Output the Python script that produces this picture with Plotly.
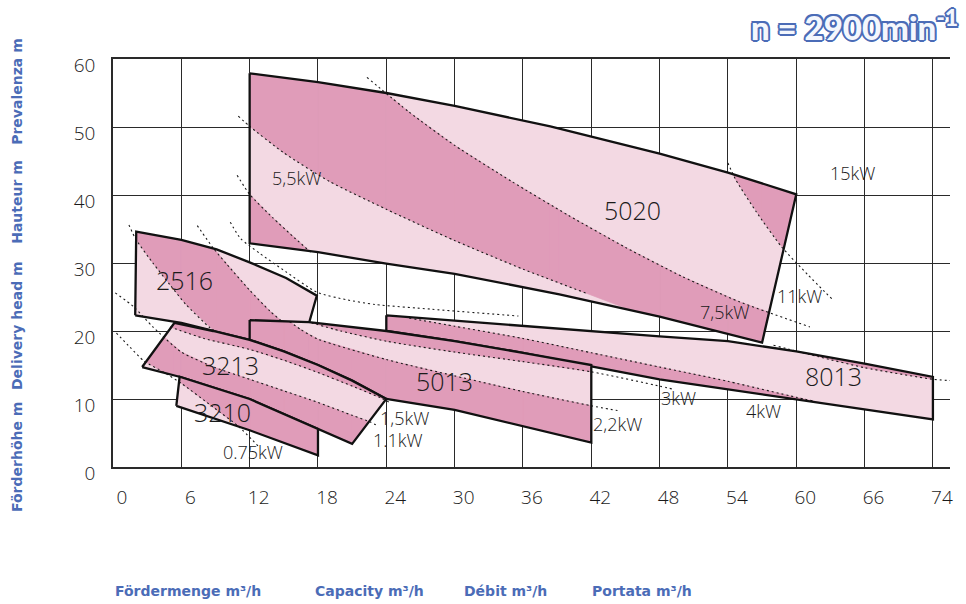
import numpy as np
import plotly.graph_objects as go

DARK = "#e09cb9"
LIGHT = "#f3d9e3"
INK = "#1a1a1a"
BLUE = "#4b6cb7"

# ---------------- axes ----------------
x_tick_vals = [0, 6, 12, 18, 24, 30, 36, 42, 48, 54, 60, 66, 72]
x_tick_text = ["0", "6", "12", "18", "24", "30", "36", "42", "48", "54", "60", "66", "74"]
y_tick_vals = [0, 10, 20, 30, 40, 50, 60]

# ---------------- pump envelopes (Q m3/h, H m): top chain / bottom chain ----------------
p5020_top = [(12, 57.9), (18, 56.6), (24, 55.0), (30, 53.1), (38.4, 50.1), (48, 46.1), (54, 43.3), (60, 40.1)]
p5020_bot = [(12, 32.9), (18, 31.6), (24, 29.9), (30, 28.4), (39.2, 25.4), (48, 22.1), (57, 18.3), (60, 40.1)]

p2516_top = [(1.95, 22.3), (2.04, 34.6), (6, 33.4), (9.1, 32.0), (12, 30.1), (15.2, 27.8), (17.9, 25.2)]
p2516_bot = [(1.95, 22.3), (6, 21.2), (8.8, 20.0), (12, 18.7), (16.4, 16.4), (17.24, 21.3), (17.9, 25.2)]

p8013_top = [(24, 22.3), (30, 21.5), (36, 20.7), (42, 19.9), (48, 19.2), (54, 18.5), (60, 17.0), (66, 15.2), (72, 13.25)]
p8013_bot = [(24, 20.0), (30, 18.5), (36, 16.8), (42, 14.8), (48, 12.9), (54, 11.4), (60, 10.0), (66, 8.5), (72, 7.0)]

p5013_top = [(12, 21.6), (17.2, 21.3), (24, 20.0), (30, 18.5), (36, 16.8), (42, 15.0)]
p5013_bot = [(12, 18.7), (15, 17.0), (18, 15.0), (21, 12.7), (24, 10.0), (30, 8.4), (36, 6.0), (42, 3.6)]

p3213_top = [(2.56, 14.7), (5.4, 21.2), (8.8, 20.0), (12, 18.7), (15, 17.0), (18, 15.0), (21, 12.7), (24, 10.0)]
p3213_bot = [(2.56, 14.7), (6, 13.2), (12, 10.0), (18, 5.6), (21, 3.4), (24, 10.0)]

p3210_top = [(5.56, 9.0), (5.85, 13.27), (12, 10.0), (18, 5.6)]
p3210_bot = [(5.56, 9.0), (12, 5.4), (18, 1.7)]

# ---------------- power curves (dotted) ----------------
kw5020_a = [(22.3, 57.3), (26, 52.2), (30, 47.3), (35, 42.0), (40, 37.0), (45, 32.3), (50, 28.0), (55, 24.3), (61.2, 20.6)]
kw5020_b = [(11, 51.6), (12, 50.1), (15, 46.2), (19, 42.0), (24, 37.9), (30, 33.3), (36, 29.1), (41.5, 25.6)]
kw5020_c = [(10.9, 42.9), (12, 40.1), (14, 36.7), (16, 33.6), (17.5, 31.4)]
kw5020_d = [(54, 44.7), (54.7, 42.2), (56.5, 37.5), (58.7, 32.4), (61, 28.3), (63.2, 24.6)]

kw2516_a = [(1.4, 35.6), (2.0, 33.5), (3.5, 30.0), (5.0, 26.8), (6.4, 23.9), (8.5, 20.5), (9.4, 19.5)]
kw2516_b = [(7.4, 35.5), (8.8, 32.2), (10, 29.8), (12, 26.0), (13.8, 22.9), (15.5, 20.5), (17, 18.5)]
kw2516_c = [(10.3, 36.0), (11.2, 33.6), (12.9, 31.4), (15.2, 28.7), (17.9, 25.7), (20.5, 24.6), (23, 23.9), (28, 23.2), (35.6, 22.2)]

kw3213_15 = [(5.0, 20.6), (8, 18.9), (12, 17.3), (15, 15.7), (18, 13.9), (21, 11.9), (23.6, 10.1), (24.4, 9.4)]
kw3213_11 = [(0.2, 25.6), (1.8, 23.6), (3.5, 20.6), (6, 16.9), (9, 14.6), (12, 12.9), (15, 11.2), (18, 9.5), (21, 7.6), (22.6, 6.6), (23.3, 6.0)]
kw3210_075 = [(0.3, 19.7), (1.5, 17.6), (2.7, 15.6), (4.5, 13.9), (6, 12.3), (8.8, 8.8), (11, 6.0), (12.8, 3.0)]

kw5013_22 = [(15.5, 21.4), (16.5, 20.2), (18, 18.8), (24, 15.8), (30, 13.4), (36, 11.1), (42, 9.0), (44.3, 8.3)]
kw5013_30 = [(17, 21.4), (20, 20.0), (24, 18.5), (30, 16.9), (36, 15.5), (42, 14.0), (48, 11.9), (49.3, 11.4)]

kw8013_40 = [(26, 21.9), (30, 20.7), (36, 18.9), (42, 16.8), (48, 14.7), (54, 12.6), (60, 10.25), (61.5, 9.7)]
kw8013_55 = [(58, 17.9), (62, 16.2), (66, 14.6), (72, 12.9), (73.6, 12.7)]

# ---------------- labels ----------------
pump_names = ["5020", "2516", "3213", "3210", "5013", "8013"]
pump_label_q = [45.6, 6.3, 10.3, 9.6, 29.1, 63.3]
pump_label_h = [37.8, 27.5, 15.0, 8.1, 12.6, 13.4]

kw_names = ["5,5kW", "7,5kW", "11kW", "15kW", "0.75kW", "1.1kW", "1,5kW", "2,2kW", "3kW", "4kW"]
kw_label_q = [16.1, 53.7, 60.3, 64.9, 12.3, 25.0, 25.6, 44.3, 49.7, 57.1]
kw_label_h = [42.5, 22.8, 25.1, 43.2, 2.2, 4.0, 7.2, 6.3, 10.1, 8.2]


# ---------------- geometry helpers ----------------
def extend(curve, length=40.0):
    p = np.array(curve, dtype=float)
    d0 = p[0] - p[1]
    d0 /= np.linalg.norm(d0)
    d1 = p[-1] - p[-2]
    d1 /= np.linalg.norm(d1)
    return [tuple(p[0] + d0 * length)] + [tuple(q) for q in p] + [tuple(p[-1] + d1 * length)]


def band_between(upper, lower):
    u = extend(upper)
    w = extend(lower)
    return u + w[::-1]


def band_side(curve, offset):
    c = extend(curve)
    o = [(x + offset[0], y + offset[1]) for x, y in c]
    return c + o[::-1]


def strips(top, bot):
    tx, ty = zip(*top)
    bx, by = zip(*bot)
    xs = sorted(set(tx) | set(bx))
    out = []
    for xa, xb in zip(xs[:-1], xs[1:]):
        ta, tb = np.interp(xa, tx, ty), np.interp(xb, tx, ty)
        ba, bb = np.interp(xa, bx, by), np.interp(xb, bx, by)
        out.append([(xa, ba), (xb, bb), (xb, tb), (xa, ta)])
    return out


def clip(subject, clipper):
    out = list(subject)
    n = len(clipper)
    for i in range(n):
        a = clipper[i]
        b = clipper[(i + 1) % n]
        if abs(a[0] - b[0]) < 1e-12 and abs(a[1] - b[1]) < 1e-12:
            continue
        inp = out
        out = []
        if not inp:
            break

        def side(p):
            return (b[0] - a[0]) * (p[1] - a[1]) - (b[1] - a[1]) * (p[0] - a[0])

        def inter(p, q):
            sp, sq = side(p), side(q)
            t = sp / (sp - sq)
            return (p[0] + t * (q[0] - p[0]), p[1] + t * (q[1] - p[1]))

        s = inp[-1]
        for e in inp:
            if side(e) >= 0:
                if side(s) < 0:
                    out.append(inter(s, e))
                out.append(e)
            elif side(s) >= 0:
                out.append(inter(s, e))
            s = e
    return out


fig = go.Figure()


def add_pump(top, bot, dark_bands, curves):
    outline = list(top) + list(bot[::-1])
    fig.add_trace(go.Scatter(x=[p[0] for p in outline], y=[p[1] for p in outline], mode="lines",
                             fill="toself", fillcolor=LIGHT, line=dict(width=0, color=LIGHT),
                             hoverinfo="skip", showlegend=False))
    st = strips(top, bot)
    for band in dark_bands:
        xs, ys = [], []
        for s in st:
            piece = clip(band, s)
            if len(piece) >= 3:
                xs += [p[0] for p in piece] + [piece[0][0], None]
                ys += [p[1] for p in piece] + [piece[0][1], None]
        if xs:
            fig.add_trace(go.Scatter(x=xs, y=ys, mode="lines", fill="toself", fillcolor=DARK,
                                     line=dict(width=0.7, color=DARK), hoverinfo="skip",
                                     showlegend=False))
    for c in curves:
        fig.add_trace(go.Scatter(x=[p[0] for p in c], y=[p[1] for p in c], mode="lines",
                                 line=dict(color=INK, width=1.1, dash="2px,3px", shape="spline",
                                           smoothing=0.6),
                                 hoverinfo="skip", showlegend=False))
    fig.add_trace(go.Scatter(x=[p[0] for p in outline] + [outline[0][0]],
                             y=[p[1] for p in outline] + [outline[0][1]], mode="lines",
                             line=dict(color="#111", width=2.3), hoverinfo="skip", showlegend=False))


add_pump(p5020_top, p5020_bot,
         [band_between(kw5020_a, kw5020_b), band_side(kw5020_c, (-60, -60)), band_side(kw5020_d, (60, 0))],
         [kw5020_a, kw5020_b, kw5020_c, kw5020_d])
add_pump(p2516_top, p2516_bot,
         [band_between(kw2516_a, kw2516_b)],
         [kw2516_a, kw2516_b, kw2516_c])
add_pump(p8013_top, p8013_bot,
         [band_side(kw8013_40, (0, -60)), band_side(kw8013_55, (0, 60))],
         [kw8013_40, kw8013_55])
add_pump(p5013_top, p5013_bot,
         [band_side(kw5013_22, (0, -60)), band_side(kw5013_30, (0, 60))],
         [kw5013_22, kw5013_30])
add_pump(p3213_top, p3213_bot,
         [band_side(kw3213_15, (0, 60)), band_between(kw3213_11, kw3210_075)],
         [kw3213_15, kw3213_11])
add_pump(p3210_top, p3210_bot,
         [band_side(kw3210_075, (60, 50))],
         [kw3210_075])

annotations = []
for name, q, h in zip(pump_names, pump_label_q, pump_label_h):
    annotations.append(dict(x=q, y=h, xref="x", yref="y", text=name, showarrow=False,
                            font=dict(family="Open Sans", size=25, color=INK, weight=300)))
for name, q, h in zip(kw_names, kw_label_q, kw_label_h):
    annotations.append(dict(x=q, y=h, xref="x", yref="y", text=name, showarrow=False,
                            font=dict(family="Open Sans", size=18, color=INK, weight=300)))

# axis titles
y_titles = ["Förderhöhe m", "Delivery head m", "Hauteur m", "Prevalenza m"]
y_title_pos = [0.0245, 0.348, 0.65, 0.922]
for t, p in zip(y_titles, y_title_pos):
    annotations.append(dict(x=-0.1147, y=p, xref="paper", yref="paper", text=t, showarrow=False,
                            textangle=-90, xanchor="center", yanchor="middle",
                            font=dict(family="DejaVu Sans", size=14, color=BLUE, weight="bold")))
x_titles = ["Fördermenge m³/h", "Capacity m³/h", "Débit m³/h", "Portata m³/h"]
x_title_pos = [0.0902, 0.306, 0.469, 0.632]
for t, p in zip(x_titles, x_title_pos):
    annotations.append(dict(x=p, y=-0.304, xref="paper", yref="paper", text=t, showarrow=False,
                            xanchor="center", yanchor="middle",
                            font=dict(family="DejaVu Sans", size=14, color=BLUE, weight="bold")))

outline_shadow = ", ".join(f"{dx}px {dy}px 0 {BLUE}" for dx, dy in
                           [(-2, 0), (2, 0), (0, -2), (0, 2), (-1.5, -1.5), (1.5, -1.5), (-1.5, 1.5), (1.5, 1.5)])
annotations.append(dict(x=1.012, y=1.083, xref="paper", yref="paper", text="n = 2900min<sup>-1</sup>",
                        showarrow=False, xanchor="right", yanchor="middle",
                        font=dict(family="Lato", size=33, color="#f4f7fd", weight=900, shadow=outline_shadow)))

fig.update_layout(
    width=966, height=604,
    margin=dict(l=113, r=16, t=59, b=137),
    paper_bgcolor="white", plot_bgcolor="white",
    showlegend=False,
    annotations=annotations,
    xaxis=dict(range=[0, 73.5], tickvals=x_tick_vals, ticktext=x_tick_text, showgrid=True,
               gridcolor="#2a2a2a", gridwidth=1.2, zeroline=False, showline=True, mirror=True,
               linecolor="#2a2a2a", linewidth=1.6, ticks="", ticklabelstandoff=12, ticklabelshift=9,
               tickfont=dict(family="Open Sans", size=19, color=INK, weight=300), layer="below traces"),
    yaxis=dict(range=[0, 60], tickvals=y_tick_vals, showgrid=True, gridcolor="#2a2a2a", gridwidth=1.2,
               zeroline=False, showline=True, linecolor="#2a2a2a", linewidth=1.6, ticks="",
               ticklabelstandoff=12, ticklabelshift=6,
               tickfont=dict(family="Open Sans", size=19, color=INK, weight=300), layer="below traces"),
)

fig.write_html("out.html", config={"displayModeBar": False},
               post_script="document.body.style.margin='0';document.body.style.padding='0';")
